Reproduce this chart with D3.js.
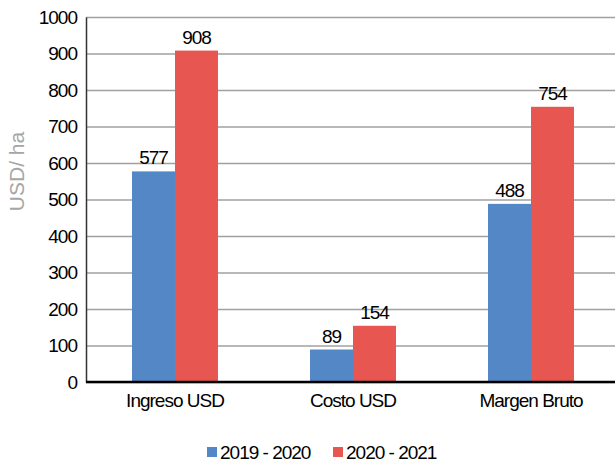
<!DOCTYPE html>
<html>
<head>
<meta charset="utf-8">
<script src="https://cdn.jsdelivr.net/npm/d3@7"></script>
<style>
  body { margin: 0; background: #fff; }
  text { font-family: "Liberation Sans Narrow", "Arial Narrow", "Liberation Sans", sans-serif; letter-spacing: -1px; }
</style>
</head>
<body>
<div id="chart"></div>
<script>
// data
var categories = ["Ingreso USD", "Costo USD", "Margen Bruto"];
var seriesNames = ["2019 - 2020", "2020 - 2021"];
var values2019 = [577, 89, 488];
var values2020 = [908, 154, 754];
var yTicks = [0, 100, 200, 300, 400, 500, 600, 700, 800, 900, 1000];
var colors = ["#5487c6", "#e85652"];

// graph specs
var width = 615;
var height = 464;
var padding = {top: 17, bottom: 82, left: 86, right: -5};

var svg = d3.select("#chart").append("svg").attr("width", width).attr("height", height);

// scales
var xscale = d3.scaleBand()
    .domain(categories)
    .range([padding.left, width - padding.right])
    .paddingInner(0.517)
    .paddingOuter(0.2585);

var xsub = d3.scaleBand()
    .domain(seriesNames)
    .range([0, xscale.bandwidth()]);

var yscale = d3.scaleLinear()
    .domain([0, 1000])
    .range([height - padding.bottom, padding.top]);

// gridlines
svg.append("g")
    .attr("transform", "translate(" + padding.left + ",0)")
    .call(d3.axisLeft(yscale).tickValues(yTicks).tickSize(-(width - padding.left)).tickFormat(""))
    .call(function(g) { g.select(".domain").remove(); })
    .selectAll("line")
    .attr("stroke", "#a0a0a0")
    .attr("stroke-width", 1.5);

// y axis
var yaxis = svg.append("g")
    .attr("transform", "translate(" + padding.left + ",0)")
    .call(d3.axisLeft(yscale).tickValues(yTicks).tickSize(0).tickPadding(9).tickFormat(d3.format("d")));
yaxis.select(".domain").attr("stroke", "#333").attr("stroke-width", 1.5);
yaxis.selectAll("text").style("font-size", "19px").attr("fill", "#000");

// bars
var rows = categories.map(function(c, i) {
    return {cat: c, vals: [values2019[i], values2020[i]]};
});

var groups = svg.selectAll(".grp").data(rows).enter().append("g")
    .attr("class", "grp")
    .attr("transform", function(d) { return "translate(" + xscale(d.cat) + ",0)"; });

groups.selectAll("rect").data(function(d) { return d.vals; }).enter().append("rect")
    .attr("x", function(d, i) { return xsub(seriesNames[i]); })
    .attr("y", function(d) { return yscale(d); })
    .attr("width", xsub.bandwidth())
    .attr("height", function(d) { return yscale(0) - yscale(d); })
    .attr("fill", function(d, i) { return colors[i]; });

groups.selectAll(".lbl").data(function(d) { return d.vals; }).enter().append("text")
    .attr("class", "lbl")
    .attr("x", function(d, i) { return xsub(seriesNames[i]) + xsub.bandwidth() / 2; })
    .attr("y", function(d) { return yscale(d) - 7; })
    .attr("text-anchor", "middle")
    .style("font-size", "19px")
    .text(function(d) { return d; });

// x axis
var xaxis = svg.append("g")
    .attr("transform", "translate(0," + yscale(0) + ")")
    .call(d3.axisBottom(xscale).tickSize(0).tickPadding(12));
xaxis.select(".domain").attr("stroke", "#000").attr("stroke-width", 2.5)
    .attr("d", "M" + padding.left + ",0H" + width);
xaxis.selectAll("text").style("font-size", "19px").attr("fill", "#000");

// y label
svg.append("text")
    .text("USD/ ha")
    .attr("transform", "translate(24," + (yscale(500) - 28) + ") rotate(-90)")
    .attr("text-anchor", "middle")
    .attr("fill", "#a6a6a6")
    .style("letter-spacing", "0px")
    .style("font-size", "21px");

// legend
var legend = svg.selectAll(".leg").data(seriesNames).enter().append("g")
    .attr("class", "leg")
    .attr("transform", function(d, i) { return "translate(" + (207 + i * 126) + ",447)"; });
legend.append("rect")
    .attr("width", 10).attr("height", 10)
    .attr("fill", function(d, i) { return colors[i]; });
legend.append("text")
    .attr("x", 13).attr("y", 12)
    .style("font-size", "19px")
    .text(function(d) { return d; });
</script>
</body>
</html>
